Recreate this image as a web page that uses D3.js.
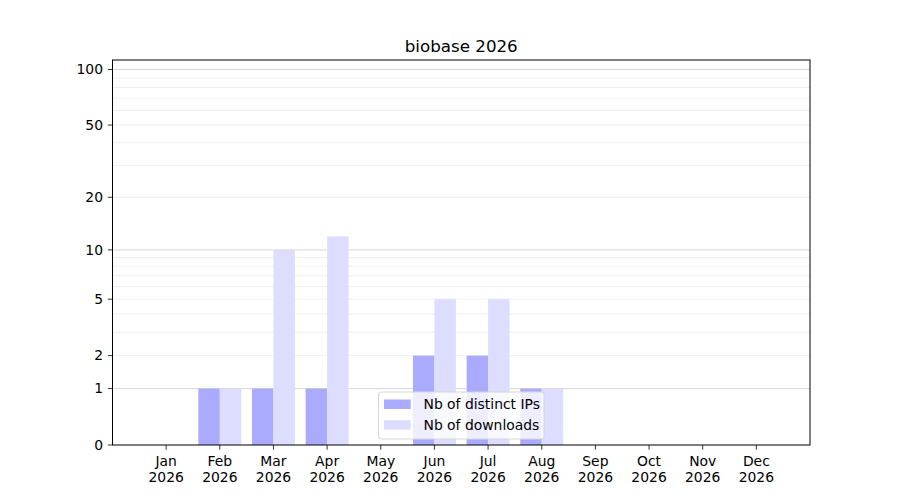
<!DOCTYPE html>
<html>
<head>
<meta charset="utf-8">
<script src="https://cdn.jsdelivr.net/npm/d3@7"></script>
<style>
  body { margin: 0; background: #fff; }
  svg { font-family: "DejaVu Sans", sans-serif; }
</style>
</head>
<body>
<svg width="900" height="500"></svg>
<script>
const width = 900;
const height = 500;

// data
const months = ["Jan", "Feb", "Mar", "Apr", "May", "Jun", "Jul", "Aug", "Sep", "Oct", "Nov", "Dec"];
const year = "2026";
const distinctIPs = [0, 1, 1, 1, 0, 2, 2, 1, 0, 0, 0, 0];
const downloads = [0, 1, 10, 12, 0, 5, 5, 1, 0, 0, 0, 0];
const yTicks = [0, 1, 2, 5, 10, 20, 50, 100];
const majorGrid = [1, 10, 100];
const minorGrid = [2, 3, 4, 5, 6, 7, 8, 9, 20, 30, 40, 50, 60, 70, 80, 90];

const margin = {top: 60, right: 90, bottom: 55, left: 112.5};
const svg = d3.select('svg');

// y is log10(1 + v)
const yLin = d3.scaleLinear()
  .domain([0, Math.log10(1 + 112.5)])
  .range([height - margin.bottom, margin.top]);
const y = v => yLin(Math.log10(1 + v));

const x = d3.scaleLinear()
  .domain([-1, months.length])
  .range([margin.left, width - margin.right]);
const barW = x(0.4) - x(0);

// grid lines
svg.selectAll("line.minor")
  .data(minorGrid)
  .enter().append("line")
  .attr("class", "minor")
  .attr("x1", margin.left).attr("x2", width - margin.right)
  .attr("y1", d => y(d)).attr("y2", d => y(d))
  .style("stroke", "#ebebeb")
  .style("stroke-width", 0.8);

svg.selectAll("line.major")
  .data(majorGrid)
  .enter().append("line")
  .attr("class", "major")
  .attr("x1", margin.left).attr("x2", width - margin.right)
  .attr("y1", d => y(d)).attr("y2", d => y(d))
  .style("stroke", "#cccccc")
  .style("stroke-width", 0.8);

// bars
svg.selectAll("rect.ips")
  .data(distinctIPs)
  .enter().append("rect")
  .attr("class", "ips")
  .attr("x", (d, i) => x(i) - barW)
  .attr("y", d => y(d))
  .attr("width", barW)
  .attr("height", d => y(0) - y(d))
  .style("fill", "#aaaaff");

svg.selectAll("rect.dl")
  .data(downloads)
  .enter().append("rect")
  .attr("class", "dl")
  .attr("x", (d, i) => x(i))
  .attr("y", d => y(d))
  .attr("width", barW)
  .attr("height", d => y(0) - y(d))
  .style("fill", "#ddddff");

// frame
svg.append("rect")
  .attr("x", margin.left).attr("y", margin.top)
  .attr("width", width - margin.right - margin.left)
  .attr("height", height - margin.bottom - margin.top)
  .style("fill", "none")
  .style("stroke", "#000")
  .style("stroke-width", 1);

// y axis ticks
const yt = svg.selectAll("g.ytick")
  .data(yTicks)
  .enter().append("g")
  .attr("class", "ytick")
  .attr("transform", d => `translate(${margin.left},${y(d)})`);
yt.append("line").attr("x1", 0).attr("x2", -4.7).style("stroke", "#000").style("stroke-width", 0.8);
yt.append("text")
  .attr("x", -9.5)
  .attr("dy", "0.35em")
  .attr("text-anchor", "end")
  .style("font-size", "13.9px")
  .text(d => d);

// x axis ticks
const xt = svg.selectAll("g.xtick")
  .data(months)
  .enter().append("g")
  .attr("class", "xtick")
  .attr("transform", (d, i) => `translate(${x(i)},${height - margin.bottom})`);
xt.append("line").attr("y1", 0).attr("y2", 4.7).style("stroke", "#000").style("stroke-width", 0.8);
xt.append("text")
  .attr("y", 21)
  .attr("text-anchor", "middle")
  .style("font-size", "13.9px")
  .text(d => d);
xt.append("text")
  .attr("y", 37)
  .attr("text-anchor", "middle")
  .style("font-size", "13.9px")
  .text(year);

// title
svg.append("text")
  .attr("x", (margin.left + width - margin.right) / 2)
  .attr("y", 51.5)
  .attr("text-anchor", "middle")
  .style("font-size", "16.7px")
  .text("biobase 2026");

// legend
const legendItems = [
  {label: "Nb of distinct IPs", color: "#aaaaff"},
  {label: "Nb of downloads", color: "#ddddff"}
];
const legend = svg.append("g").attr("transform", "translate(378.5,392)");
legend.append("rect")
  .attr("width", 165.5).attr("height", 47)
  .attr("rx", 3)
  .style("fill", "#fff")
  .style("fill-opacity", 0.8)
  .style("stroke", "#d6d6d6")
  .style("stroke-width", 1);
const li = legend.selectAll("g.item")
  .data(legendItems)
  .enter().append("g")
  .attr("class", "item")
  .attr("transform", (d, i) => `translate(0,${7.5 + i * 20.7})`);
li.append("rect")
  .attr("x", 5.5).attr("width", 26.7).attr("height", 9.5)
  .style("fill", d => d.color);
li.append("text")
  .attr("x", 45)
  .attr("y", 4.75)
  .attr("dy", "0.35em")
  .style("font-size", "13.9px")
  .text(d => d.label);
</script>
</body>
</html>
